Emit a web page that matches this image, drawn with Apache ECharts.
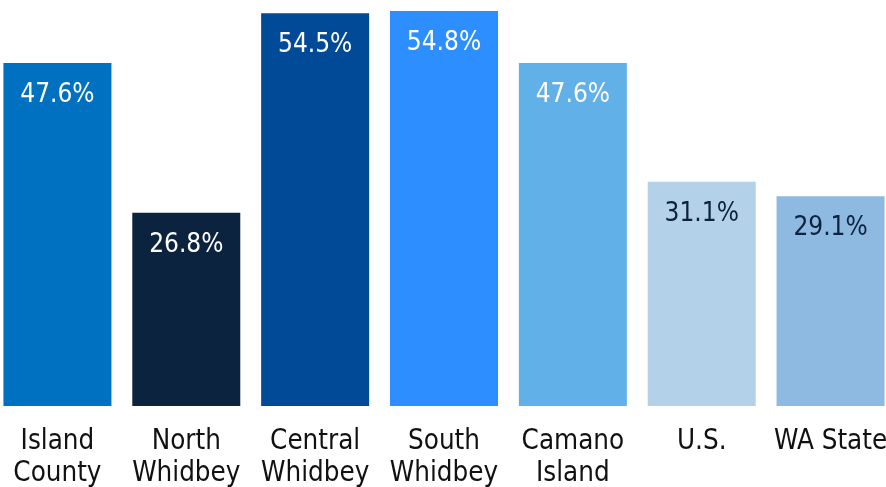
<!DOCTYPE html>
<html><head><meta charset="utf-8">
<script src="https://cdn.jsdelivr.net/npm/echarts@6/dist/echarts.min.js"></script>
<style>html,body{margin:0;padding:0;background:#fff}#c{width:886px;height:487px}</style>
</head><body><div id="c"></div>
<script>
const categories = ['Island\nCounty', 'North\nWhidbey', 'Central\nWhidbey', 'South\nWhidbey', 'Camano\nIsland', 'U.S.', 'WA State'];
const values = [47.6, 26.8, 54.5, 54.8, 47.6, 31.1, 29.1];
const barColors = ['#0070C0', '#0C2340', '#004A98', '#2C8EFF', '#62B0E8', '#B4D1EA', '#8EB9E0'];
const labelColors = ['#ffffff', '#ffffff', '#ffffff', '#ffffff', '#ffffff', '#0C2340', '#0C2340'];
const FONT = '"DejaVu Sans Condensed", "DejaVu Sans", sans-serif';
const chart = echarts.init(document.getElementById('c'), null, {renderer: 'canvas'});
chart.setOption({
  animation: false,
  grid: {left: -7, width: 902, top: 11, bottom: 81, containLabel: false, outerBoundsMode: 'none'},
  xAxis: {
    type: 'category', data: categories,
    axisLine: {show: false}, axisTick: {show: false},
    axisLabel: {interval: 0, color: '#111', fontFamily: FONT, fontSize: 27.5, lineHeight: 32, margin: 20}
  },
  yAxis: {type: 'value', min: 0, max: 54.8, show: false, splitLine: {show: false}},
  series: [{
    type: 'bar', barWidth: 108,
    data: values.map((v, i) => ({
      value: v,
      itemStyle: {color: barColors[i]},
      label: {color: labelColors[i]}
    })),
    label: {
      show: true, position: 'insideTop', distance: 19,
      fontFamily: FONT, fontSize: 26,
      formatter: p => p.value.toFixed(1) + '%'
    }
  }]
});
</script></body></html>
